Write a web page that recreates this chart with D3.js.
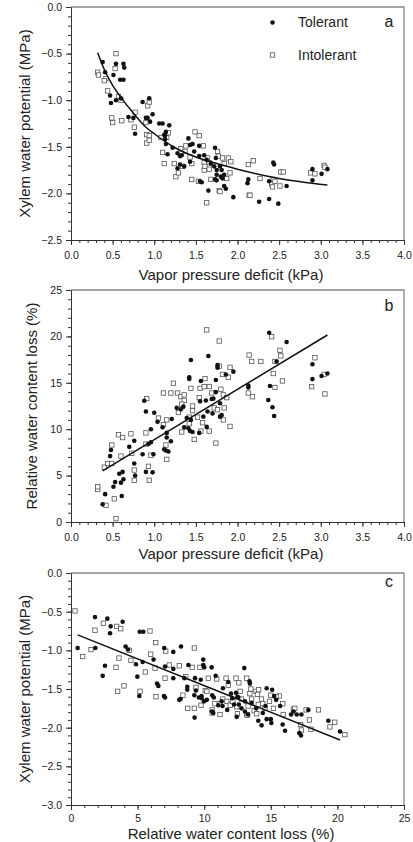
<!DOCTYPE html>
<html lang="en">
<head>
<meta charset="UTF-8">
<title>Xylem water potential and water content loss</title>
<script src="https://d3js.org/d3.v7.min.js"></script>
<style>
    body { margin: 0; background: #fff; }
    svg { display: block; font-family: "Liberation Sans", Arial, sans-serif; }
    .tick text { fill: #222; font-size: 10.5px; }
    .axis path, .axis line { stroke: #333; }
    .minor path { display: none; }
</style>
</head>
<body>
<div id="chart"></div>
<script>
// ---- panel a: VPD (kPa) vs xylem water potential (MPa)
const tolerantA = [[0.38,-0.59],[0.41,-0.70],[0.54,-0.61],[0.63,-0.61],[0.64,-0.65],[0.51,-0.73],[0.59,-0.78],[0.63,-0.78],[0.47,-0.95],[0.48,-1.03],[0.54,-1.00],[0.60,-0.98],[0.69,-1.18],[0.75,-1.19],[0.77,-1.36],[0.86,-1.02],[0.94,-0.98],[0.90,-1.19],[0.92,-1.19],[0.98,-1.15],[0.95,-1.23],[1.06,-1.25],[1.10,-1.25],[1.18,-1.27],[1.14,-1.34],[1.13,-1.38],[1.41,-1.41],
    [1.12,-1.37],[1.13,-1.42],[1.14,-1.47],[1.16,-1.58],[1.22,-1.51],[1.28,-1.57],[1.31,-1.60],[1.33,-1.59],[1.28,-1.73],[1.31,-1.69],[1.36,-1.71],[1.43,-1.48],[1.46,-1.47],[1.43,-1.66],[1.48,-1.55],[1.54,-1.49],[1.54,-1.60],[1.55,-1.87],[1.57,-1.88],[1.60,-1.59],[1.63,-1.64],[1.65,-1.97],[1.68,-1.68],[1.73,-1.51],[1.74,-1.62],[1.72,-1.71],[1.75,-1.75],[1.75,-1.80],[1.73,-1.85],[1.75,-1.86],[1.79,-1.71],[1.80,-1.82],[1.81,-1.75],[1.84,-1.80],[1.82,-1.84],[1.84,-1.92],[1.86,-1.95],[1.95,-2.04],[2.12,-1.89],[2.13,-1.85],[2.26,-2.09],[2.38,-2.06],[2.38,-1.87],[2.43,-1.67],[2.44,-1.69],[2.49,-2.11],[2.59,-1.92],[2.90,-1.74],[2.90,-1.86],[3.01,-1.79],[3.08,-1.74]];
const intolerantA = [[0.32,-0.70],[0.33,-0.73],[0.54,-0.50],[0.53,-0.66],[0.42,-0.77],[0.40,-0.79],[0.44,-0.90],[0.57,-0.96],[0.60,-1.00],[0.49,-1.19],[0.50,-1.24],[0.61,-1.22],[0.72,-1.21],[0.77,-1.13],[0.76,-1.29],[0.90,-1.24],[0.92,-1.06],[0.94,-1.02],[0.91,-1.37],[0.94,-1.38],[1.15,-1.40],[1.17,-1.35],[1.49,-1.34],[1.54,-1.38],[1.08,-1.40],
    [0.91,-1.46],[0.94,-1.43],[1.10,-1.56],[1.12,-1.68],[1.24,-1.68],[1.26,-1.82],[1.29,-1.78],[1.32,-1.52],[1.34,-1.71],[1.37,-1.55],[1.38,-1.49],[1.43,-1.61],[1.45,-1.68],[1.45,-1.85],[1.53,-1.87],[1.59,-1.49],[1.60,-1.67],[1.60,-1.75],[1.61,-1.71],[1.63,-2.10],[1.64,-1.62],[1.66,-1.74],[1.66,-1.67],[1.68,-1.85],[1.76,-1.55],[1.77,-1.60],[1.78,-1.97],[1.79,-1.98],[1.82,-1.62],[1.84,-1.68],[1.87,-1.84],[1.89,-1.62],[1.91,-1.78],[1.92,-1.66],[2.13,-1.69],[2.19,-1.65],[2.14,-2.02],[2.15,-2.02],[2.27,-1.84],[2.41,-1.90],[2.42,-1.93],[2.43,-1.85],[2.45,-1.87],[2.51,-1.92],[2.52,-1.77],[2.55,-1.77],[2.88,-1.78],[2.93,-1.79],[3.04,-1.70],[3.05,-1.72]];
const fitA = [[0.32,-0.49],[0.40,-0.67],[0.50,-0.84],[0.60,-0.97],[0.75,-1.14],[0.90,-1.29],[1.00,-1.36],[1.25,-1.51],[1.50,-1.61],[1.75,-1.68],[2.00,-1.74],[2.50,-1.84],[3.08,-1.91]];

// ---- panel b: VPD (kPa) vs relative water content loss (%)
const tolerantB = [[0.88,13.07],[0.90,11.9],[1.00,11.78],[1.32,12.14],[1.35,12.43],[1.42,15.41],[1.42,15.6],[1.44,17.46],[1.65,17.89],[1.56,15.19],[1.74,15.3],[1.76,16.63],[1.76,16.9],[1.86,15.9],[1.95,16.2],[1.69,13.25],[1.71,13.3],[1.79,12.8],[1.81,11.53],[1.79,11.35],[1.70,11.7],[1.64,11.9],[1.59,11.35],[1.44,11.0],[1.39,11.2],[1.74,14.0],[2.13,14.5],[2.13,14.7],[2.38,20.4],[2.59,19.4],[2.37,13.15],[2.39,14.66],[2.42,12.36],[2.44,11.42],[2.47,17.3],[2.90,17.0],[2.90,15.4],[3.01,15.73],[3.08,16.0],
    [0.38,1.9],[0.41,3.0],[0.51,3.8],[0.53,4.3],[0.58,5.2],[0.60,4.24],[0.62,5.4],[0.63,4.6],[0.61,2.8],[0.48,7.76],[0.47,7.1],[0.70,8.1],[0.76,8.76],[0.76,6.3],[0.77,5.0],[0.86,7.3],[0.90,5.4],[0.93,8.4],[0.96,8.6],[0.96,10.0],[0.98,5.35],[0.99,7.3],[1.04,10.8],[1.10,10.2],[1.12,7.83],[1.14,7.7],[1.17,7.6],[1.15,9.1],[1.15,9.6],[1.20,8.7],[1.36,10.2],[1.41,10.1],[1.43,9.8],[1.46,9.7],[1.54,9.6],[1.63,10.25],[1.21,11.1],[1.27,12.3],[1.55,13.0],[1.62,13.1]];
const intolerantB = [[0.91,13.3],[1.11,13.9],[1.23,14.95],[1.20,13.9],[1.28,13.9],[1.32,13.5],[1.36,13.7],[1.44,14.4],[1.36,13.1],[1.33,12.7],[1.46,12.5],[1.46,12.0],[1.54,13.4],[1.55,14.4],[1.60,14.58],[1.61,15.45],[1.63,20.7],[1.78,19.5],[1.66,14.6],[1.69,13.9],[1.80,14.3],[1.83,13.7],[1.87,13.4],[1.91,16.67],[1.89,15.6],[1.82,15.9],[1.78,16.8],[1.72,12.3],[1.76,12.1],[1.84,12.3],[2.14,17.99],[2.17,17.3],[2.28,17.3],[2.13,13.9],[2.18,13.5],[2.41,19.97],[2.43,16.0],[2.45,17.3],[2.45,14.5],[2.51,18.5],[2.52,17.9],[2.54,15.2],[2.89,14.58],[2.93,17.7],[3.04,15.9],[3.05,13.8],
    [0.32,3.5],[0.32,3.8],[0.42,1.8],[0.40,5.9],[0.44,6.3],[0.49,6.3],[0.49,8.3],[0.52,2.5],[0.54,0.36],[0.57,9.4],[0.62,9.1],[0.60,7.1],[0.72,9.5],[0.73,7.4],[0.76,5.6],[0.76,4.5],[0.90,9.6],[0.93,6.0],[0.94,4.5],[0.96,7.2],[0.90,8.4],[1.11,10.5],[1.15,6.75],[1.14,8.3],[1.33,9.7],[1.48,8.9],[1.56,9.8],[1.66,9.8],[1.74,8.5],[1.91,10.3],[1.42,10.6],[1.58,10.7],[1.83,11.0],[1.05,11.2],[1.15,11.0],[1.29,11.8],[1.42,11.3],[1.52,11.3]];
const fitB = [[0.38,5.5],[3.08,20.15]];

// ---- panel c: relative water content loss (%) vs xylem water potential (MPa)
const tolerantC = [[0.50,-0.97],[1.83,-0.97],[1.80,-0.57],[2.73,-0.59],[2.98,-0.69],[2.93,-0.78],[2.55,-1.20],[2.38,-1.33],[3.88,-0.63],[4.10,-0.95],[4.28,-0.99],[4.88,-1.18],[4.98,-1.34],[5.16,-0.76],[5.43,-0.76],[5.38,-1.15],[5.13,-1.59],[6.20,-1.12],[6.46,-1.43],[6.56,-1.46],[7.00,-0.97],[6.98,-1.59],[7.06,-1.21],[7.68,-1.02],[7.68,-1.36],[7.68,-1.24],[8.23,-1.63],[8.26,-0.95],[8.51,-1.36],[8.81,-1.19],[8.73,-1.47],[8.73,-1.51],[9.31,-1.36],[9.38,-1.52],[9.74,-1.38],[9.93,-1.19],[9.93,-1.12],[9.60,-1.61],[9.80,-1.59],[10.0,-1.22],[10.56,-1.22],[10.86,-1.33],[11.41,-1.49],[11.81,-1.41],[12.39,-1.55],[12.50,-1.60],[13.01,-1.23],[13.40,-1.40],[13.43,-1.43],[14.69,-1.49],[15.10,-1.51],[15.25,-1.59],
    [7.06,-1.61],[8.13,-1.64],[9.28,-1.87],[9.26,-1.58],[9.81,-1.62],[9.98,-1.66],[10.2,-1.64],[10.6,-1.58],[10.72,-1.61],[10.59,-1.79],[10.68,-1.81],[11.06,-1.71],[11.31,-1.66],[11.38,-1.72],[11.73,-1.77],[12.01,-1.56],[12.11,-1.62],[12.24,-1.70],[12.44,-1.86],[12.56,-1.61],[12.60,-1.70],[12.80,-1.75],[13.06,-1.66],[13.06,-1.79],[13.30,-1.83],[13.56,-1.68],[13.90,-1.75],[14.06,-1.91],[14.31,-1.97],[14.40,-1.81],[14.60,-1.72],[14.69,-1.89],[15.00,-1.89],[15.04,-1.94],[15.40,-1.64],[15.70,-1.72],[15.89,-1.96],[16.07,-2.04],[16.52,-1.83],[16.70,-1.79],[16.95,-1.83],[17.14,-2.07],[17.27,-2.10],[17.30,-1.83],[17.82,-1.77],[19.32,-1.91],[20.20,-2.05]];
const intolerantC = [[0.30,-0.49],[0.88,-1.08],[1.80,-0.74],[1.50,-0.99],[2.43,-0.65],[3.43,-0.69],[3.73,-0.72],[3.60,-1.10],[3.38,-1.22],[4.38,-1.00],[4.50,-1.13],[3.50,-1.53],[3.98,-1.46],[5.58,-1.28],[5.93,-0.75],[6.36,-0.90],[5.98,-1.05],[6.31,-1.23],[6.38,-1.60],[7.11,-1.01],[7.38,-1.19],[7.06,-1.36],[8.13,-1.20],[8.40,-1.58],[8.61,-1.34],[9.26,-0.97],[9.10,-1.22],[9.68,-1.22],[9.38,-1.48],[10.08,-1.52],[10.31,-1.36],[10.94,-1.37],[11.64,-1.36],[11.81,-1.45],[12.39,-1.36],[12.60,-1.42],[13.19,-1.36],[13.50,-1.50],[13.89,-1.53],[14.09,-1.51],[14.00,-1.57],[15.00,-1.58],[15.64,-1.59],
    [5.18,-1.53],[8.76,-1.75],[9.26,-1.75],[9.76,-1.71],[10.2,-1.53],[10.6,-1.81],[10.6,-1.77],[10.8,-1.69],[11.2,-1.69],[11.19,-1.83],[11.4,-1.63],[11.7,-1.66],[11.95,-1.71],[12.15,-1.66],[12.45,-1.73],[12.49,-1.82],[12.7,-1.53],[12.8,-1.63],[13.2,-1.83],[13.24,-1.84],[13.3,-1.72],[13.43,-1.56],[13.56,-1.63],[13.75,-1.78],[13.94,-1.82],[14.06,-1.70],[14.3,-1.63],[14.4,-1.69],[14.56,-1.75],[14.9,-1.66],[15.2,-1.75],[15.4,-1.60],[15.9,-1.69],[15.93,-1.83],[16.7,-1.76],[16.8,-1.75],[17.24,-1.96],[17.3,-2.03],[17.65,-1.77],[17.9,-1.90],[18.02,-2.02],[18.58,-1.77],[19.44,-1.99],[19.8,-1.93],[20.56,-2.09]];
const fitC = [[0.5,-0.80],[20.2,-2.16]];

const legendLabels = ["Tolerant", "Intolerant"];

const width = 413, height = 842;
const left = 71, right = 404;

const svg = d3.select("#chart").append("svg")
    .attr("width", width)
    .attr("height", height);

const panels = [
    { tol: tolerantA, intol: intolerantA, fit: fitA, curved: true,
      top: 7, bottom: 240, xDom: [0, 4], yDom: [-2.5, 0],
      xMajor: 0.5, xMinor: 0.1, yMajor: 0.5, yMinor: 0.1, xFmt: ".1f", yFmt: ".1f",
      xTitle: "Vapor pressure deficit (kPa)", yTitle: "Xylem water potential (MPa)",
      xPad: 7, xTitleY: 280, yTitleX: 29.5, letter: "a", letterY: 26.5, legend: true },
    { tol: tolerantB, intol: intolerantB, fit: fitB, curved: false,
      top: 290, bottom: 522, xDom: [0, 4], yDom: [0, 25],
      xMajor: 0.5, xMinor: 0.1, yMajor: 5, yMinor: 1, xFmt: ".1f", yFmt: "d",
      xTitle: "Vapor pressure deficit (kPa)", yTitle: "Relative water content loss (%)",
      xPad: 7, xTitleY: 558.5, yTitleX: 36.5, letter: "b", letterY: 310.5 },
    { tol: tolerantC, intol: intolerantC, fit: fitC, curved: false,
      top: 573, bottom: 805, xDom: [0, 25], yDom: [-3, 0],
      xMajor: 5, xMinor: 1, yMajor: 0.5, yMinor: 0.1, xFmt: "d", yFmt: ".1f",
      xTitle: "Relative water content loss (%)", yTitle: "Xylem water potential (MPa)",
      xPad: 5, xTitleY: 839, yTitleX: 30, letter: "c", letterY: 587 }
];

function steps(dom, step) {
    const n = Math.round((dom[1] - dom[0]) / step);
    return d3.range(n + 1).map(i => +(dom[0] + i * step).toFixed(3));
}

panels.forEach(p => {
    const x = d3.scaleLinear().domain(p.xDom).range([left, right]);
    const y = d3.scaleLinear().domain(p.yDom).range([p.bottom, p.top]);
    const g = svg.append("g");

    // frame: top and right in grey
    g.append("path")
        .attr("d", `M${left},${p.top}H${right}V${p.bottom}`)
        .attr("fill", "none")
        .attr("stroke", "#888")
        .attr("stroke-width", 1.3);

    // minor ticks
    g.append("g").attr("class", "axis minor")
        .attr("transform", `translate(0,${p.bottom})`)
        .call(d3.axisBottom(x).tickValues(steps(p.xDom, p.xMinor)).tickSize(3).tickFormat(""));
    g.append("g").attr("class", "axis minor")
        .attr("transform", `translate(${left},0)`)
        .call(d3.axisLeft(y).tickValues(steps(p.yDom, p.yMinor)).tickSize(3).tickFormat(""));

    // major ticks
    g.append("g").attr("class", "axis")
        .attr("transform", `translate(0,${p.bottom})`)
        .call(d3.axisBottom(x).tickValues(steps(p.xDom, p.xMajor)).tickSize(5).tickSizeOuter(0)
            .tickPadding(p.xPad).tickFormat(d3.format(p.xFmt)));
    g.append("g").attr("class", "axis")
        .attr("transform", `translate(${left},0)`)
        .call(d3.axisLeft(y).tickValues(steps(p.yDom, p.yMajor)).tickSize(5).tickSizeOuter(0)
            .tickPadding(4).tickFormat(d3.format(p.yFmt)));

    // axis titles
    g.append("text")
        .attr("x", 231)
        .attr("y", p.xTitleY)
        .attr("text-anchor", "middle")
        .attr("font-size", "15px")
        .attr("fill", "#222")
        .text(p.xTitle);
    g.append("text")
        .attr("transform", `translate(${p.yTitleX},${(p.top + p.bottom) / 2}) rotate(-90)`)
        .attr("text-anchor", "middle")
        .attr("font-size", "15px")
        .attr("fill", "#222")
        .text(p.yTitle);

    // panel letter
    g.append("text")
        .attr("x", 389)
        .attr("y", p.letterY)
        .attr("text-anchor", "middle")
        .attr("font-size", "16px")
        .attr("fill", "#222")
        .text(p.letter);

    // points: open squares (intolerant) then filled dots (tolerant)
    g.selectAll(".sq").data(p.intol).join("rect")
        .attr("x", d => x(d[0]) - 2.2)
        .attr("y", d => y(d[1]) - 2.2)
        .attr("width", 4.4)
        .attr("height", 4.4)
        .attr("fill", "#fff")
        .attr("stroke", "#555")
        .attr("stroke-width", 0.8);
    g.selectAll(".dot").data(p.tol).join("circle")
        .attr("cx", d => x(d[0]))
        .attr("cy", d => y(d[1]))
        .attr("r", 2.3)
        .attr("fill", "#111");

    // fitted line
    const line = d3.line()
        .x(d => x(d[0]))
        .y(d => y(d[1]))
        .curve(p.curved ? d3.curveMonotoneX : d3.curveLinear);
    g.append("path")
        .datum(p.fit)
        .attr("d", line)
        .attr("fill", "none")
        .attr("stroke", "#111")
        .attr("stroke-width", 1.5);

    // legend (panel a only)
    if (p.legend) {
        g.append("circle").attr("cx", 272.5).attr("cy", 22.5).attr("r", 2.3).attr("fill", "#111");
        g.append("rect").attr("x", 270.3).attr("y", 52.8).attr("width", 4.4).attr("height", 4.4)
            .attr("fill", "#fff").attr("stroke", "#555").attr("stroke-width", 0.8);
        legendLabels.forEach((lab, i) => {
            g.append("text")
                .attr("x", 298)
                .attr("y", i === 0 ? 27 : 60)
                .attr("font-size", "14px")
                .attr("fill", "#222")
                .text(lab);
        });
    }
});
</script>
</body>
</html>
